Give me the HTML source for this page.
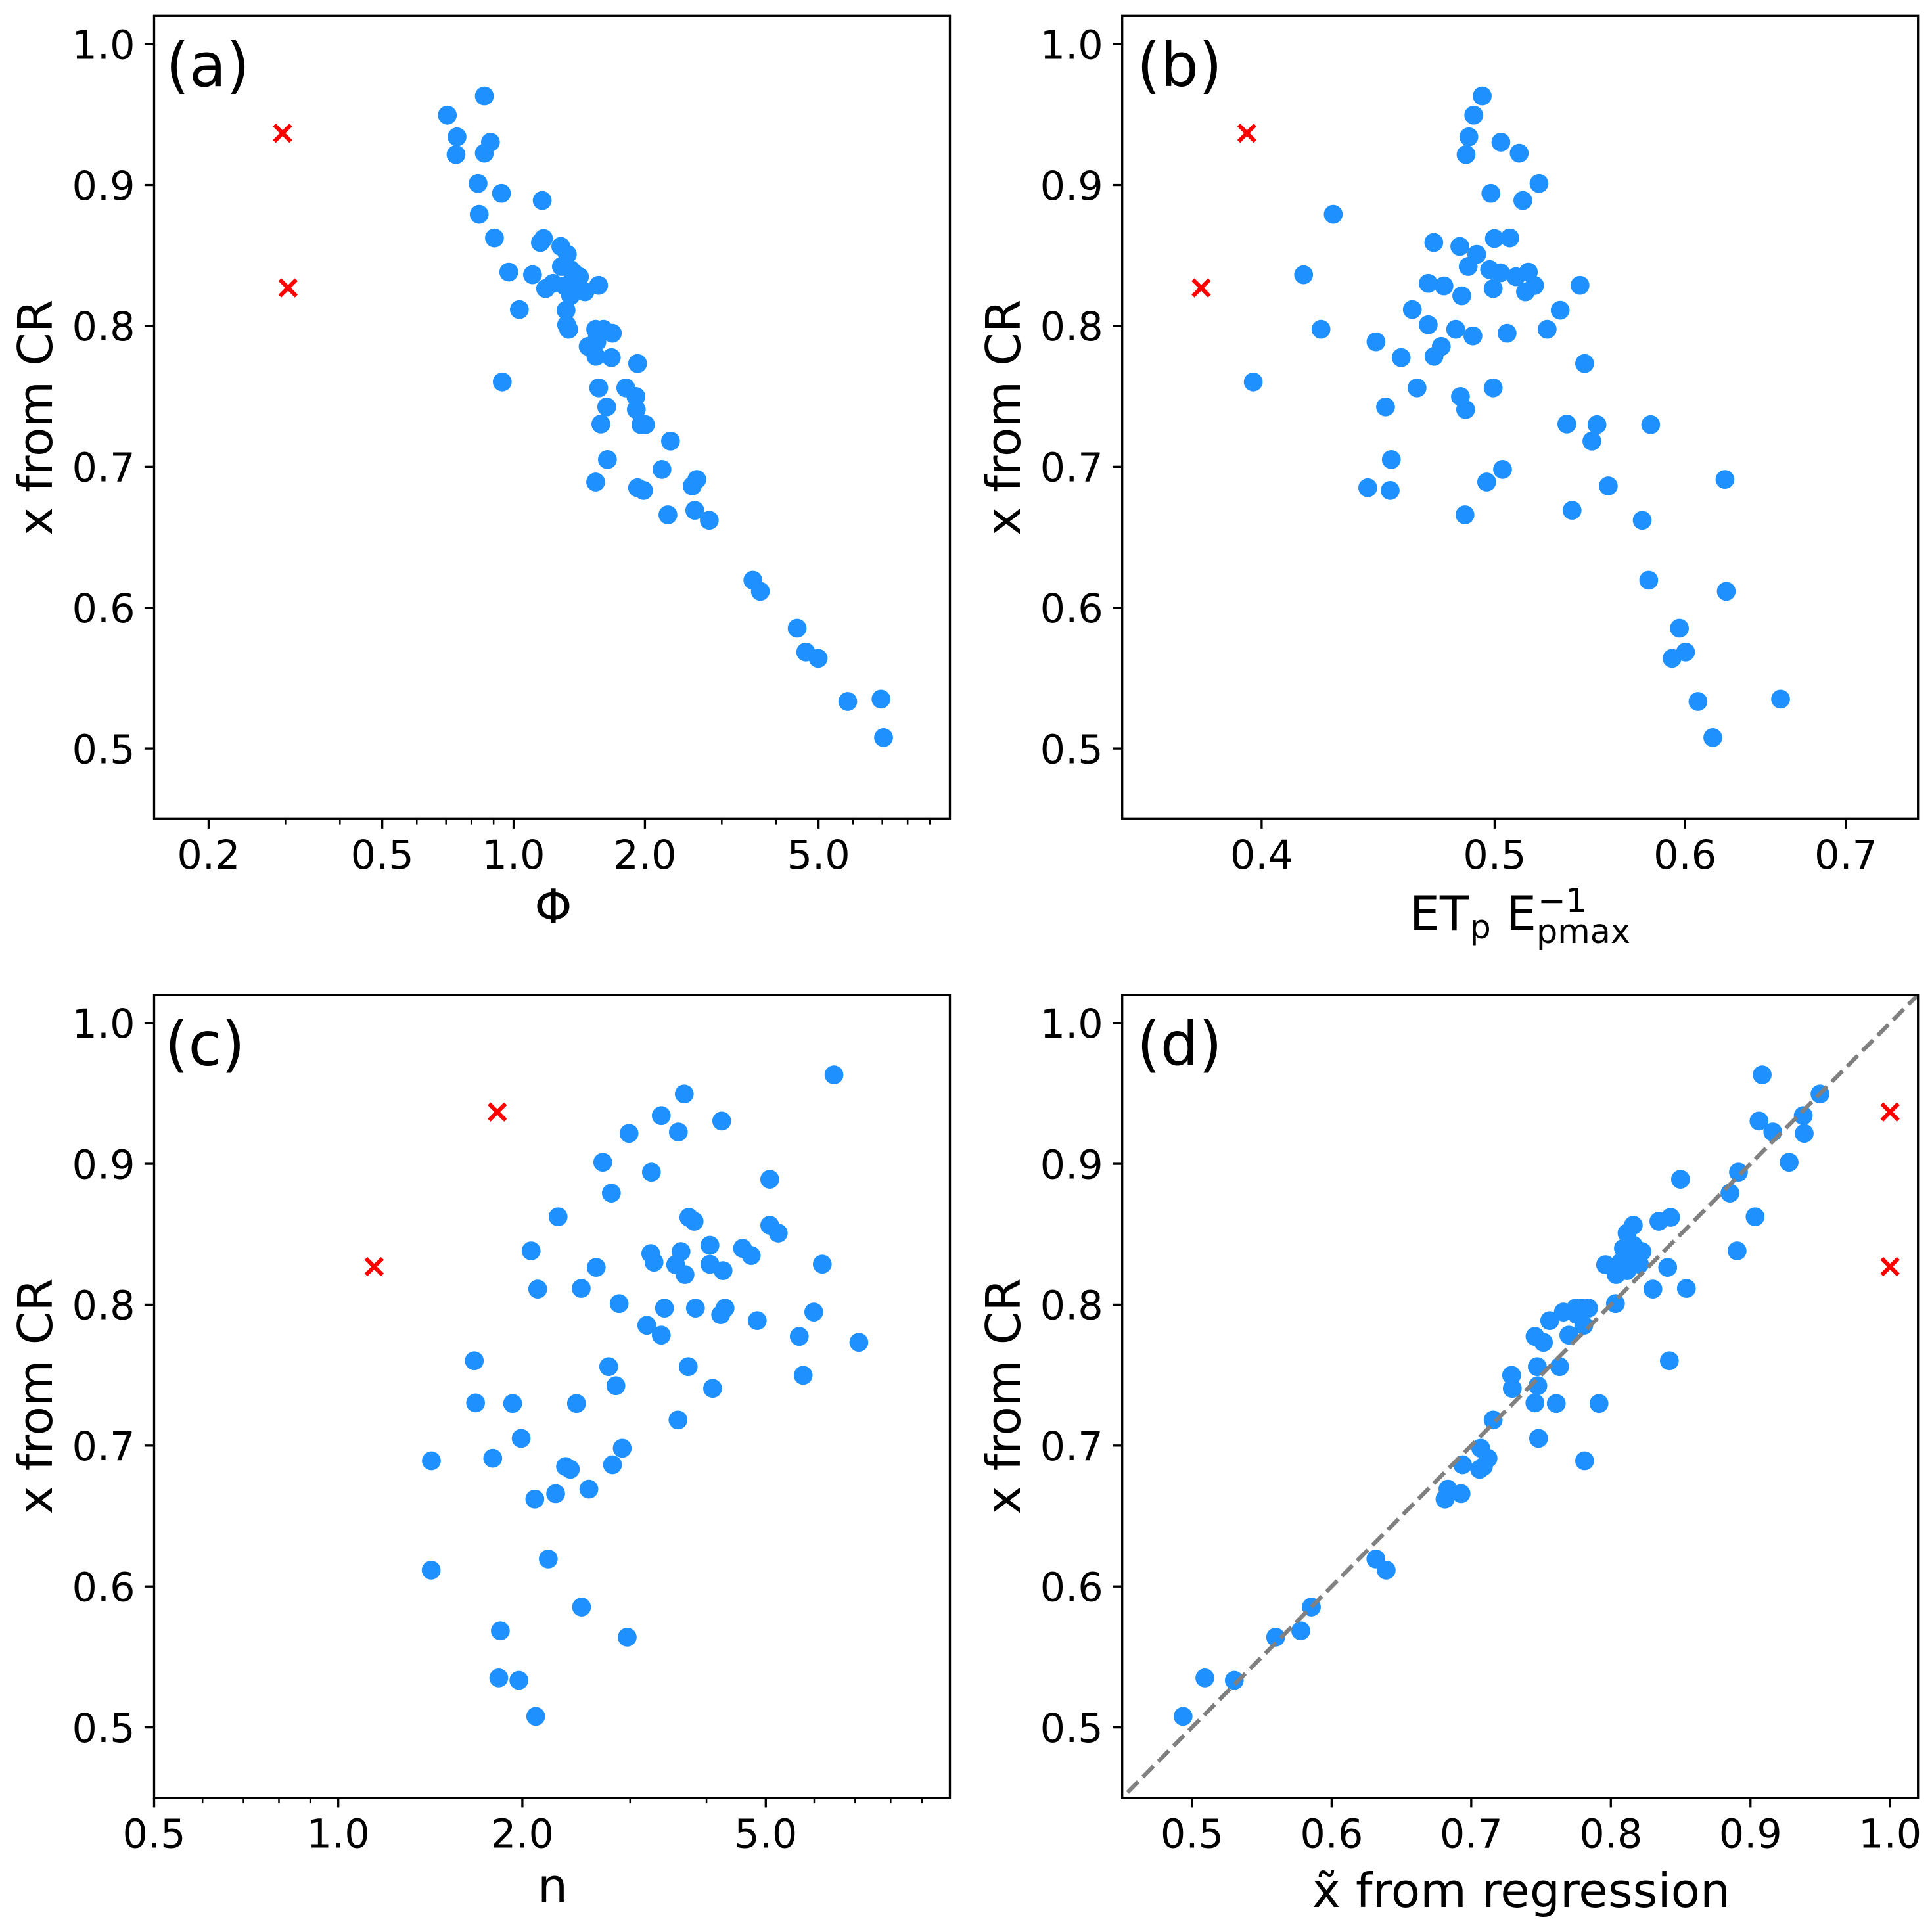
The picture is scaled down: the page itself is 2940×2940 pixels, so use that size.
<!DOCTYPE html>
<html lang="en">
<head>
<meta charset="utf-8">
<title>x from CR scatter panels</title>
<style>
html,body{margin:0;padding:0;background:#fff;}
svg{display:block;}
text{font-family:"DejaVu Sans","Liberation Sans",sans-serif;fill:#000;}
.tick{font-size:60.4px;}
.axis{font-size:72.6px;}
.panel{font-size:91.67px;}
.sub{font-size:50.8px;}
</style>
</head>
<body>
<svg id="figure" xmlns="http://www.w3.org/2000/svg" width="2940" height="2940" viewBox="0 0 2940 2940">
<rect x="0" y="0" width="2940" height="2940" fill="#fff"/>
<defs>
<clipPath id="clip-d"><rect x="1707.7" y="1513.5" width="1211" height="1222.5"/></clipPath>
</defs>
<g id="layer"></g>
<text class="axis" x="842" y="1405" text-anchor="middle">Φ</text>
<text class="axis"><tspan x="2145" y="1415">ET</tspan><tspan class="sub" x="2236.5" y="1428">p</tspan><tspan x="2292" y="1415">E</tspan><tspan class="sub" x="2340" y="1388">−1</tspan><tspan class="sub" x="2338" y="1435">pmax</tspan></text>
<text class="axis" x="841" y="2895" text-anchor="middle">n</text>
<text class="axis" x="2315" y="2902" text-anchor="middle">x̃ from regression</text>
</svg>
<script>
// Shared y values: x from CR
const xFromCR = [0.9632,0.9496,0.9342,0.9304,0.9226,0.9216,0.9011,0.8941,0.8890,0.8792,0.8624,0.8620,0.8592,0.8564,0.8508,0.8422,0.8400,0.8382,0.8377,0.8363,0.8349,0.8302,0.8288,0.8287,0.8284,0.8265,0.8242,0.8214,0.8116,0.8111,0.8008,0.7976,0.7976,0.7976,0.7948,0.7929,0.7887,0.7854,0.7784,0.7775,0.7733,0.7602,0.7560,0.7560,0.7499,0.7425,0.7406,0.7303,0.7299,0.7299,0.7182,0.7051,0.6981,0.6910,0.6892,0.6864,0.6851,0.6832,0.6691,0.6659,0.6620,0.6195,0.6116,0.5854,0.5685,0.5640,0.5334,0.5351,0.5078];
// Panel (a) Phi
const phiValues = [0.857,0.705,0.742,0.885,0.857,0.738,0.829,0.938,1.163,0.834,0.904,1.171,1.152,1.283,1.328,1.287,1.351,0.975,1.375,1.105,1.416,1.232,1.566,1.391,1.310,1.184,1.457,1.351,1.031,1.319,1.323,1.337,1.542,1.607,1.684,1.556,1.552,1.482,1.544,1.675,1.924,0.942,1.567,1.808,1.907,1.635,1.911,1.585,1.958,2.006,2.289,1.641,2.188,2.630,1.542,2.567,1.924,1.986,2.602,2.258,2.809,3.535,3.677,4.466,4.673,4.990,5.833,6.952,7.046];
// Panel (b) ETp / Epmax
const etpValues = [0.4941,0.4901,0.4878,0.5030,0.5119,0.4865,0.5217,0.4982,0.5137,0.4284,0.5073,0.4999,0.4717,0.4836,0.4915,0.4875,0.4976,0.5164,0.5028,0.4164,0.5103,0.4692,0.5426,0.5195,0.4763,0.4993,0.5150,0.4845,0.4621,0.5324,0.4692,0.4817,0.5258,0.4234,0.5060,0.4897,0.4463,0.4751,0.4718,0.4572,0.5450,0.3968,0.4642,0.4993,0.4839,0.4504,0.4863,0.5358,0.5515,0.5806,0.5488,0.4529,0.5038,0.6234,0.4962,0.5575,0.4428,0.4524,0.5385,0.4860,0.5759,0.5795,0.6242,0.5968,0.6003,0.5926,0.6075,0.6575,0.6162];
// Panel (c) n
const nValues = [6.463,3.679,3.374,4.236,3.598,2.988,2.707,3.251,5.075,2.796,2.288,3.743,3.818,5.075,5.241,4.052,4.581,2.067,3.634,3.243,4.734,3.283,6.185,4.052,3.562,2.641,4.257,3.689,2.496,2.119,2.879,3.415,3.837,4.289,5.990,4.220,4.842,3.195,3.374,5.672,7.098,1.669,2.768,3.734,5.756,2.844,4.093,1.677,2.452,1.928,3.593,1.991,2.913,1.789,1.420,2.808,2.353,2.396,2.569,2.267,2.096,2.205,1.419,2.499,1.841,2.968,1.974,1.830,2.103];
// Panel (d) x-tilde from regression
const xTildeValues = [0.9084,0.9498,0.9378,0.9061,0.9160,0.9385,0.9277,0.8914,0.8499,0.8853,0.9033,0.8428,0.8344,0.8161,0.8116,0.8161,0.8090,0.8904,0.8223,0.8107,0.8126,0.8072,0.8152,0.8205,0.7962,0.8407,0.8116,0.8038,0.8541,0.8301,0.8033,0.7748,0.7790,0.7840,0.7660,0.7758,0.7562,0.7806,0.7699,0.7457,0.7517,0.8419,0.7473,0.7633,0.7289,0.7477,0.7294,0.7456,0.7609,0.7915,0.7157,0.7482,0.7068,0.7120,0.7812,0.6938,0.7087,0.7060,0.6833,0.6927,0.6812,0.6317,0.6391,0.5855,0.5779,0.5599,0.5303,0.5092,0.4936];
// Excluded sites (red crosses)
const outlierY = [0.9368,0.8270];
const outlierPhi = [0.2955,0.3042];
const outlierEtp = [0.3944,0.3775];
const outlierN = [1.82,1.145];
const outlierXTilde = [1.0,1.0];
// Reference line in panel (d)
const refLineEnds = [0.4538,1.03];
// Axis limits
const yLimits = [0.45,1.02];
const xLimitsA = [0.15,10];
const xLimitsB = [0.35,0.75];
const xLimitsC = [0.5,10];
const xLimitsD = [0.45,1.02];
// Ticks
const yTicks = [0.5,0.6,0.7,0.8,0.9,1.0];
const yTickLabels = ["0.5","0.6","0.7","0.8","0.9","1.0"];
const xTicksA = [0.2,0.5,1,2,5];
const xTickLabelsA = ["0.2","0.5","1.0","2.0","5.0"];
const xMinorA = [0.3,0.4,0.6,0.7,0.8,0.9,3,4,6,7,8,9];
const xTicksB = [0.4,0.5,0.6,0.7];
const xTickLabelsB = ["0.4","0.5","0.6","0.7"];
const xMinorB = [];
const xTicksC = [0.5,1,2,5];
const xTickLabelsC = ["0.5","1.0","2.0","5.0"];
const xMinorC = [0.6,0.7,0.8,0.9,3,4,6,7,8,9];
const xTicksD = [0.5,0.6,0.7,0.8,0.9,1.0];
const xTickLabelsD = ["0.5","0.6","0.7","0.8","0.9","1.0"];
const xMinorD = [];
const yAxisTitle = "x from CR";
const panelTags = ["(a)","(b)","(c)","(d)"];

const NS = "http://www.w3.org/2000/svg";
const layer = document.getElementById("layer");
const AXW = 1211, AXH = 1222;
function logScale(lim, left){
  return v => left + Math.log10(v / lim[0]) / Math.log10(lim[1] / lim[0]) * AXW;
}
function linScale(lim, left){
  return v => left + (v - lim[0]) / (lim[1] - lim[0]) * AXW;
}
function yScale(top){
  return v => top + (yLimits[1] - v) / (yLimits[1] - yLimits[0]) * AXH;
}
function make(tag, attrs, parent){
  const el = document.createElementNS(NS, tag);
  for (const k in attrs) el.setAttribute(k, attrs[k]);
  parent.appendChild(el);
  return el;
}
function drawPanel(id, tag, tagDx, left, top, sx, xs, oxs, xT, xL, xM){
  const sy = yScale(top);
  const bottom = top + AXH;
  const g = make("g", {}, layer);
  
  

  const bg = make("rect", {x:left, y:top, width:AXW, height:AXH, fill:"#fff"}, g);
  
  

  xFromCR.forEach((yv, i) => {
    const c = make("circle", {cx:sx(xs[i]), cy:sy(yv), r:14.35, fill:"#1E90FF"}, g);
    
    
  });
  outlierY.forEach((yv, i) => {
    const cx = sx(oxs[i]), cy = sy(yv), h = 12.5;
    const m = make("path", {d:`M${cx-h} ${cy-h}L${cx+h} ${cy+h}M${cx-h} ${cy+h}L${cx+h} ${cy-h}`, stroke:"#FF0000", "stroke-width":6.25, fill:"none"}, g);
    
    
  });
  if (id === "d"){
    const ln = make("line", {x1:sx(refLineEnds[0]), y1:sy(refLineEnds[0]), x2:sx(refLineEnds[1]), y2:sy(refLineEnds[1]), stroke:"#808080", "stroke-width":6.25, "stroke-dasharray":"23.1 10", "clip-path":"url(#clip-d)"}, g);
    
    
  }
  const frame = make("rect", {x:left, y:top, width:AXW, height:AXH, fill:"none", stroke:"#000", "stroke-width":3.33}, g);
  
  

  yTicks.forEach((t, i) => {
    const py = sy(t);
    const tk = make("line", {x1:left-14.6, x2:left, y1:py, y2:py, stroke:"#000", "stroke-width":3.33}, g);
    
    
    const lb = make("text", {x:left-29, y:py+22.3, "text-anchor":"end", class:"tick"}, g);
    lb.textContent = yTickLabels[i];
    
    
  });
  xT.forEach((t, i) => {
    const px = sx(t);
    const tk = make("line", {x1:px, x2:px, y1:bottom, y2:bottom+14.6, stroke:"#000", "stroke-width":3.33}, g);
    
    
    const lb = make("text", {x:px, y:bottom+75.8, "text-anchor":"middle", class:"tick"}, g);
    lb.textContent = xL[i];
    
    
  });
  xM.forEach(t => {
    const px = sx(t);
    const tk = make("line", {x1:px, x2:px, y1:bottom, y2:bottom+8.33, stroke:"#000", "stroke-width":2.5}, g);
    
    
  });
  const pt = make("text", {x:left+19.3+tagDx, y:top+106.7, class:"panel"}, g);
  pt.textContent = tag;
  
  

  const yx = left - 155.5, yy = top + AXH / 2;
  const yt = make("text", {x:yx, y:yy, "text-anchor":"middle", class:"axis", transform:`rotate(-90 ${yx} ${yy})`}, g);
  yt.textContent = yAxisTitle;
  
  
}
drawPanel("a", panelTags[0], -1.5, 234.5, 24.3, logScale(xLimitsA, 234.5), phiValues, outlierPhi, xTicksA, xTickLabelsA, xMinorA);
drawPanel("b", panelTags[1], 3, 1707.7, 24.3, logScale(xLimitsB, 1707.7), etpValues, outlierEtp, xTicksB, xTickLabelsB, xMinorB);
drawPanel("c", panelTags[2], -3, 234.5, 1513.8, logScale(xLimitsC, 234.5), nValues, outlierN, xTicksC, xTickLabelsC, xMinorC);
drawPanel("d", panelTags[3], 3, 1707.7, 1513.8, linScale(xLimitsD, 1707.7), xTildeValues, outlierXTilde, xTicksD, xTickLabelsD, xMinorD);
</script>
</body>
</html>
